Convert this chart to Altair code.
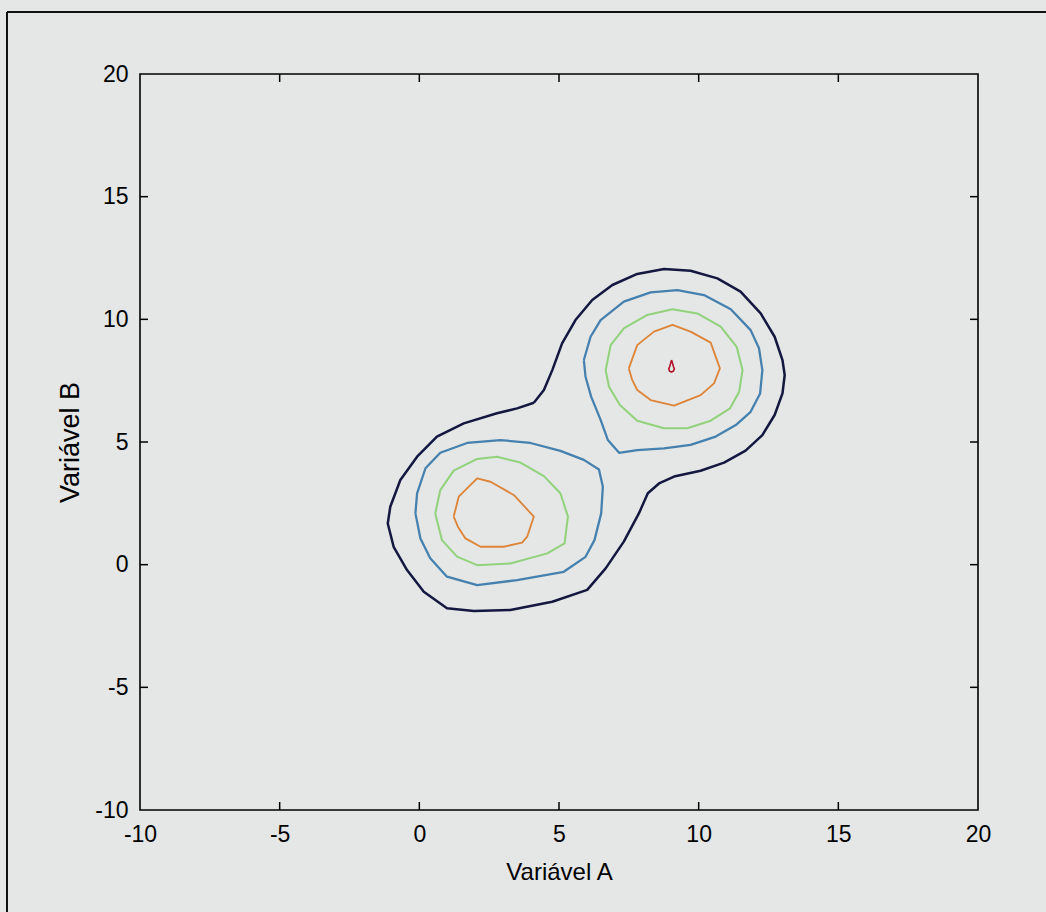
import altair as alt
import pandas as pd

# ---- contour data (Variável A, Variável B) ----
navy_A = [4.10, 4.46, 4.76, 5.11, 5.59, 6.19, 6.91, 7.80, 8.76, 9.71, 10.67, 11.50, 12.22, 12.72,
          13.00, 13.08, 13.00, 12.72, 12.28, 11.68, 10.91, 10.07, 9.12, 8.58, 8.18, 7.86, 7.32,
          6.67, 6.01, 4.76, 3.26, 1.95, 0.99, 0.16, -0.44, -0.92, -1.13, -1.04, -0.68, -0.08,
          0.63, 1.59, 2.78, 3.50]
navy_B = [6.60, 7.12, 7.93, 9.02, 9.97, 10.79, 11.40, 11.85, 12.05, 11.98, 11.67, 11.13, 10.24, 9.29,
          8.34, 7.73, 6.98, 6.10, 5.28, 4.65, 4.16, 3.83, 3.59, 3.31, 2.91, 2.09, 0.94,
          -0.15, -1.03, -1.51, -1.85, -1.89, -1.78, -1.10, -0.22, 0.73, 1.68, 2.36, 3.45, 4.40,
          5.22, 5.76, 6.17, 6.37]

blue_r_A = [5.89, 6.13, 6.49, 7.32, 8.28, 9.24, 10.19, 11.15, 11.86, 12.16, 12.28, 12.20, 11.86,
            11.33, 10.61, 9.71, 8.76, 7.80, 7.15, 6.75, 6.49, 6.15, 5.95]
blue_r_B = [8.34, 9.29, 9.97, 10.72, 11.10, 11.19, 10.99, 10.41, 9.56, 8.82, 7.93, 6.98, 6.23,
            5.69, 5.22, 4.88, 4.74, 4.67, 4.56, 5.08, 5.90, 6.85, 7.66]
blue_l_A = [-0.14, -0.08, 0.22, 0.75, 1.71, 2.90, 3.98, 5.05, 5.89, 6.43, 6.57, 6.51, 6.27, 5.95,
            5.17, 3.50, 2.07, 0.99, 0.39, 0.04]
blue_l_B = [2.09, 2.91, 3.93, 4.56, 4.96, 5.08, 4.96, 4.64, 4.27, 3.88, 3.18, 2.09, 1.00, 0.32,
            -0.29, -0.63, -0.83, -0.49, 0.26, 1.07]

green_r_A = [6.67, 6.85, 7.32, 8.16, 9.06, 9.95, 10.79, 11.36, 11.57, 11.45, 11.12, 10.43, 9.59,
             8.76, 7.80, 7.18, 6.79]
green_r_B = [7.93, 8.95, 9.63, 10.18, 10.41, 10.24, 9.70, 8.88, 7.93, 7.05, 6.37, 5.87, 5.56,
             5.56, 5.87, 6.51, 7.25]
green_l_A = [0.57, 0.75, 1.23, 2.07, 2.78, 3.62, 4.46, 5.05, 5.32, 5.20, 4.58, 3.26, 2.07, 1.35, 0.81]
green_l_B = [2.09, 3.04, 3.83, 4.31, 4.40, 4.16, 3.61, 2.91, 1.96, 0.87, 0.46, 0.05, -0.02, 0.33, 1.00]

orange_r_A = [7.50, 7.80, 8.40, 9.06, 9.71, 10.43, 10.76, 10.55, 10.07, 9.12, 8.28, 7.80, 7.62]
orange_r_B = [8.00, 8.95, 9.50, 9.77, 9.50, 9.05, 8.00, 7.39, 6.91, 6.48, 6.71, 7.12, 7.53]
orange_l_A = [1.23, 1.41, 2.07, 2.55, 3.38, 4.10, 3.86, 3.68, 3.02, 2.19, 1.65, 1.38]
orange_l_B = [1.96, 2.77, 3.52, 3.38, 2.84, 1.96, 1.14, 0.90, 0.73, 0.73, 1.07, 1.55]

red_A = [9.03, 9.10, 9.13, 9.09, 9.03, 8.96, 8.93, 8.96]
red_B = [8.34, 8.07, 7.98, 7.88, 7.85, 7.88, 7.98, 8.07]

tick_values = [-10, -5, 0, 5, 10, 15, 20]
inner_ticks = [-5, 0, 5, 10, 15]

levels = ["1", "2", "3", "4", "5"]
level_colors = ["#14173f", "#4580ae", "#92d27c", "#de8438", "#b0142a"]
level_widths = [2.5, 1.6, 1.6, 1.8, 1.5]

contours = [
    ("navy", "1", navy_A, navy_B),
    ("blue_r", "2", blue_r_A, blue_r_B),
    ("blue_l", "2", blue_l_A, blue_l_B),
    ("green_r", "3", green_r_A, green_r_B),
    ("green_l", "3", green_l_A, green_l_B),
    ("orange_r", "4", orange_r_A, orange_r_B),
    ("orange_l", "4", orange_l_A, orange_l_B),
    ("red", "5", red_A, red_B),
]

rows = []
for cid, lev, xs, ys in contours:
    pts = list(zip(xs, ys)) + [(xs[0], ys[0])]
    for i, (a, b) in enumerate(pts):
        rows.append({"cid": cid, "level": lev, "i": i, "A": a, "B": b})
df = pd.DataFrame(rows)

W, H = 838, 736
BG = "#e4e7e5"
FONT = "Liberation Sans"
LABEL_EXPR = "datum.value < 0 ? '-' + abs(datum.value) : '' + datum.value"

xscale = alt.Scale(domain=[-10, 20], nice=False, zero=False)
yscale = alt.Scale(domain=[-10, 20], nice=False, zero=False)

lines = alt.Chart(df).mark_line(strokeJoin="round", clip=True).encode(
    x=alt.X("A:Q", scale=xscale,
            axis=alt.Axis(values=tick_values, title="Variável A", ticks=False, tickSize=0,
                          domain=False, grid=False, labelFontSize=23, labelFont=FONT,
                          labelColor="black", labelPadding=13, titleFont=FONT,
                          titleFontSize=24, titleFontWeight="normal", titleColor="black",
                          titlePadding=14, labelFlush=False, labelExpr=LABEL_EXPR)),
    y=alt.Y("B:Q", scale=yscale,
            axis=alt.Axis(values=tick_values, title="Variável B", ticks=False, tickSize=0,
                          domain=False, grid=False, labelFontSize=23, labelFont=FONT,
                          labelColor="black", labelPadding=12, titleFont=FONT,
                          titleFontSize=27, titleFontWeight="normal", titleColor="black",
                          titlePadding=10, labelFlush=False, labelExpr=LABEL_EXPR)),
    color=alt.Color("level:N", scale=alt.Scale(domain=levels, range=level_colors), legend=None),
    strokeWidth=alt.StrokeWidth("level:N", scale=alt.Scale(domain=levels, range=level_widths),
                                legend=None),
    detail="cid:N",
    order="i:Q",
)

tick_df = pd.DataFrame({"t": inner_ticks})
tcol = "black"
bottom_ticks = alt.Chart(tick_df).mark_rule(color=tcol, strokeWidth=1.5).encode(
    x=alt.X("t:Q", scale=xscale), y=alt.value(H), y2=alt.value(H - 8))
top_ticks = alt.Chart(tick_df).mark_rule(color=tcol, strokeWidth=1.5).encode(
    x=alt.X("t:Q", scale=xscale), y=alt.value(0), y2=alt.value(8))
left_ticks = alt.Chart(tick_df).mark_rule(color=tcol, strokeWidth=1.5).encode(
    y=alt.Y("t:Q", scale=yscale), x=alt.value(0), x2=alt.value(8))
right_ticks = alt.Chart(tick_df).mark_rule(color=tcol, strokeWidth=1.5).encode(
    y=alt.Y("t:Q", scale=yscale), x=alt.value(W), x2=alt.value(W - 8))

# scanned page frame (left and top edges)
frame_left = alt.Chart(pd.DataFrame({"k": [0]})).mark_rule(color="#111111", strokeWidth=2).encode(
    x=alt.value(-133), y=alt.value(-62), y2=alt.value(840))
frame_top = alt.Chart(pd.DataFrame({"k": [0]})).mark_rule(color="#111111", strokeWidth=2).encode(
    x=alt.value(-133), x2=alt.value(906), y=alt.value(-62))

chart = alt.layer(
    lines, bottom_ticks, top_ticks, left_ticks, right_ticks, frame_left, frame_top
).resolve_scale(x="shared", y="shared").properties(
    width=W, height=H,
    autosize=alt.AutoSizeParams(type="none"),
    padding={"left": 140, "top": 74, "right": 68, "bottom": 102},
    background=BG,
).configure_view(stroke="black", strokeWidth=1.6, fill=BG)

chart.save("out.html", embed_options={"renderer": "svg", "actions": False})
